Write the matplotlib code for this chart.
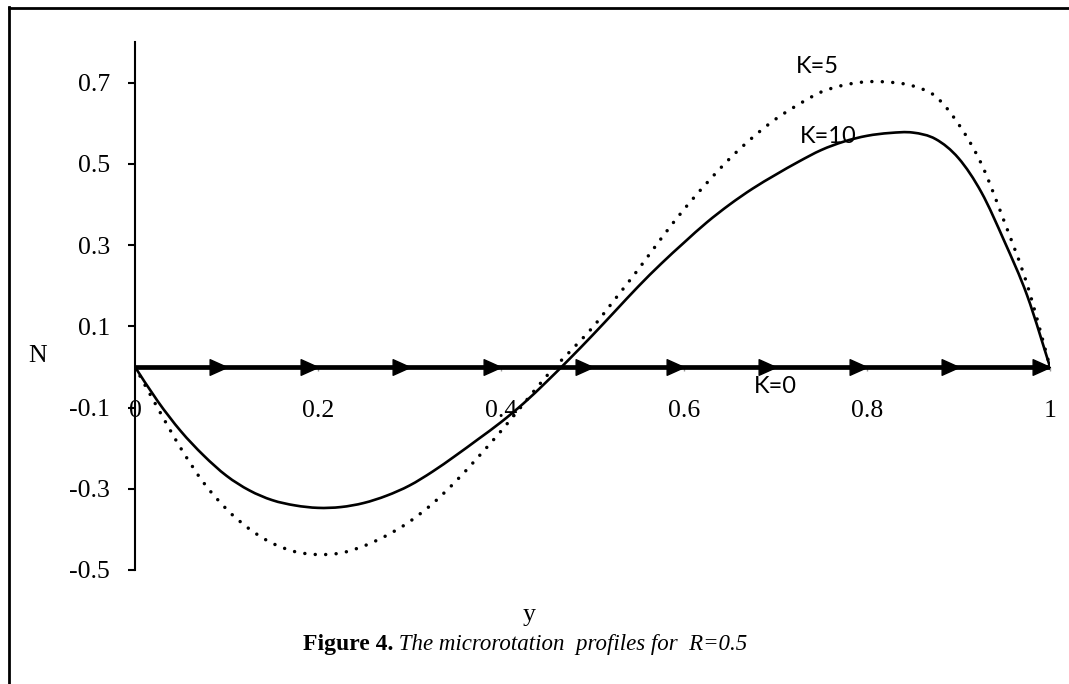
import numpy as np
import matplotlib
matplotlib.use("Agg")
import matplotlib.pyplot as plt
from matplotlib.path import Path
from matplotlib.patches import PathPatch
from matplotlib.lines import Line2D

# ---- data ----
y_pos = [0.0, 0.025, 0.05, 0.075, 0.1, 0.125, 0.15, 0.175, 0.2, 0.225,
         0.25, 0.275, 0.3, 0.325, 0.35, 0.375, 0.4, 0.425, 0.45, 0.475,
         0.5, 0.525, 0.55, 0.575, 0.6, 0.625, 0.65, 0.675, 0.7, 0.725,
         0.75, 0.775, 0.8, 0.825, 0.85, 0.875, 0.9, 0.925, 0.95, 0.975, 1.0]
N_K10 = [0.0, -0.085, -0.158, -0.218, -0.268, -0.304, -0.328, -0.341, -0.347, -0.345,
         -0.335, -0.317, -0.292, -0.258, -0.219, -0.178, -0.136, -0.089, -0.036, 0.020,
         0.078, 0.138, 0.198, 0.254, 0.306, 0.356, 0.400, 0.439, 0.473, 0.505,
         0.534, 0.555, 0.569, 0.576, 0.577, 0.561, 0.514, 0.430, 0.310, 0.176, 0.0]
N_K5 = [0.0, -0.102, -0.200, -0.285, -0.350, -0.399, -0.434, -0.455, -0.462, -0.458,
        -0.441, -0.415, -0.381, -0.337, -0.283, -0.222, -0.158, -0.090, -0.022, 0.037,
        0.097, 0.168, 0.240, 0.316, 0.388, 0.453, 0.513, 0.565, 0.610, 0.646,
        0.677, 0.694, 0.702, 0.701, 0.692, 0.666, 0.598, 0.500, 0.358, 0.203, 0.0]
y_K0 = [0.0, 0.1, 0.2, 0.3, 0.4, 0.5, 0.6, 0.7, 0.8, 0.9, 1.0]
N_K0 = [0.0, 0.0, 0.0, 0.0, 0.0, 0.0, 0.0, 0.0, 0.0, 0.0, 0.0]

x_ticks = [0, 0.2, 0.4, 0.6, 0.8, 1]
x_ticklabels = ["0", "0.2", "0.4", "0.6", "0.8", "1"]
y_ticks = [-0.5, -0.3, -0.1, 0.1, 0.3, 0.5, 0.7]
y_ticklabels = ["-0.5", "-0.3", "-0.1", "0.1", "0.3", "0.5", "0.7"]

serif = "Liberation Serif"
sans = "Lato"


def smooth_path(xs, ys):
    """Smoothed (Catmull-Rom style) Bezier path through the data points."""
    p = np.column_stack([xs, ys]).astype(float)
    n = len(p)
    verts = [p[0]]
    codes = [Path.MOVETO]
    for i in range(n - 1):
        p0 = p[i - 1] if i > 0 else p[i]
        p1, p2 = p[i], p[i + 1]
        p3 = p[i + 2] if i + 2 < n else p[i + 1]
        c1 = p1 + (p2 - p0) / 6.0
        c2 = p2 - (p3 - p1) / 6.0
        verts += [c1, c2, p2]
        codes += [Path.CURVE4] * 3
    return Path(verts, codes)


fig = plt.figure(figsize=(10.69, 6.84), dpi=100)
ax = fig.add_axes([135 / 1069, 114 / 684, 915 / 1069, 528 / 684])
ax.set_xlim(0, 1)
ax.set_ylim(-0.5, 0.8)

# arrowhead marker with tip at the data point
arrow = Path([(0, 0), (-1, 0.45), (-1, -0.45), (0, 0)],
             [Path.MOVETO, Path.LINETO, Path.LINETO, Path.CLOSEPOLY])

ax.plot(y_K0, N_K0, color="black", lw=3.4, solid_capstyle="butt",
        marker=arrow, markersize=25, markevery=list(range(1, len(y_K0))),
        markerfacecolor="black", markeredgecolor="black", zorder=3)

ax.add_patch(PathPatch(smooth_path(y_pos, N_K10), fill=False, edgecolor="black",
                       lw=1.9, zorder=4, transform=ax.transData))
ax.add_patch(PathPatch(smooth_path(y_pos, N_K5), fill=False, edgecolor="black",
                       lw=2.5, linestyle=(0, (0.01, 3.0)), capstyle="round",
                       zorder=4, transform=ax.transData))

# spines
for s in ["top", "right"]:
    ax.spines[s].set_visible(False)
ax.spines["bottom"].set_position(("data", 0))
ax.spines["bottom"].set_visible(False)
ax.spines["left"].set_linewidth(1.5)

ax.set_xticks(x_ticks)
ax.set_xticklabels(x_ticklabels, family=serif, fontsize=18.5)
ax.set_yticks(y_ticks)
ax.set_yticklabels(y_ticklabels, family=serif, fontsize=18.5)
ax.tick_params(axis="x", direction="out", length=3, width=1, color="#999999", pad=21)
ax.tick_params(axis="y", direction="out", length=5, width=1.5, color="black", pad=13)
ax.xaxis.set_ticks_position("bottom")

# curve labels
ax.text(0.746, 0.739, "K=5", family=sans, fontsize=17, ha="center", va="center")
ax.text(0.758, 0.567, "K=10", family=sans, fontsize=17, ha="center", va="center")
ax.text(0.700, -0.049, "K=0", family=sans, fontsize=17, ha="center", va="center")

# axis labels
fig.text(38 / 1069, 1 - 356 / 684, "N", family=serif, fontsize=18.5, ha="center", va="center")
fig.text(529 / 1069, 1 - 615 / 684, "y", family=serif, fontsize=18.5, ha="center", va="center")

# caption
t1 = fig.text(303 / 1069, 1 - 650 / 684, "Figure 4.", family=serif, fontsize=17,
              weight="bold", ha="left", va="baseline")
ax.annotate(" The microrotation  profiles for  R=0.5", xy=(1, 0), xycoords=t1,
            family=serif, fontsize=16.5, style="italic", ha="left", va="bottom",
            annotation_clip=False)

# frame lines
fig.add_artist(Line2D([9 / 1069, 9 / 1069], [0, 1 - 7 / 684], color="black", lw=2,
                      transform=fig.transFigure))
fig.add_artist(Line2D([9 / 1069, 1], [1 - 8 / 684, 1 - 8 / 684], color="black", lw=2,
                      transform=fig.transFigure))

fig.savefig("out.png", dpi=100)
